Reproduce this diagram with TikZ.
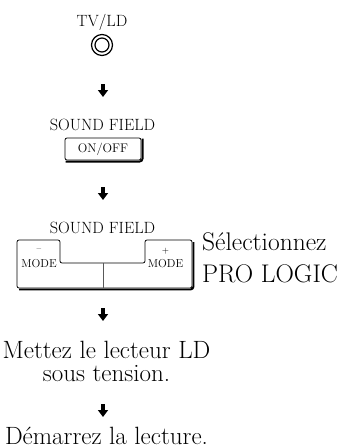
\documentclass[tikz,border=0pt]{standalone}
\usepackage{tikz}
\usetikzlibrary{arrows.meta,positioning}

\begin{document}
\begin{tikzpicture}[x=1pt, y=-1pt, every node/.style={inner sep=0pt},
  lbl/.style={font=\fontsize{16.3}{18}\selectfont, anchor=base},
  big/.style={font=\fontsize{25}{23.5}\selectfont},
  tiny/.style={font=\fontsize{11.5}{12}\selectfont, anchor=base},
  keycap/.style={draw, line width=0.75pt, rounded corners=2pt},
  keyshadow/.style={line width=1.9pt, rounded corners=3pt},
  steparrow/.style={line width=3.4pt, -{Triangle[width=10pt,length=7pt]}}]
\useasboundingbox (0,0) rectangle (350,448);

\node[lbl] (tvlabel) at (102,26) {TV/LD};
\node[circle, draw, line width=1.2pt, minimum size=21pt] (tvbtn) at (102,45) {};
\node[circle, draw, line width=1.2pt, minimum size=14pt] (tvring) at (tvbtn) {};

\coordinate (a1) at (103,84);
\coordinate (a1e) at (103,97);
\draw[steparrow] (a1) -- (a1e);

\node[lbl] (sf1) at (102.5,130) {SOUND FIELD};
\node[keycap, minimum width=76pt, minimum height=22pt, font=\fontsize{12.5}{12}\selectfont] (onoff) at (103,149) {ON/OFF};
\draw[keyshadow] ([shift={(1,1.2)}]onoff.south west) -| ([shift={(1.2,1)}]onoff.north east);

\coordinate (a2) at (103,187);
\coordinate (a2e) at (103,200);
\draw[steparrow] (a2) -- (a2e);

\node[lbl] (sf2) at (102.5,233) {SOUND FIELD};
\draw[keycap] (17,240) -- (60,240) -- (60,263) -- (145,263) -- (145,240) -- (192,240) -- (192,288) -- (17,288) -- cycle;
\draw[black!65, line width=0.9pt] (103,263) -- (103,288);
\draw[keyshadow] (19,289.5) -- (193.5,289.5) -- (193.5,242);
\node[font=\fontsize{9}{9}\selectfont, anchor=base] (minuslbl) at (39,251) {--};
\node[tiny] (model) at (39,267) {MODE};
\node[font=\fontsize{9}{9}\selectfont, anchor=base] (pluslbl) at (165.5,253) {+};
\node[tiny] (moder) at (165.5,267) {MODE};
\node[big, font=\fontsize{25.5}{32}\selectfont, align=left, anchor=base west] (select) at (202,282) {Sélectionnez\\PRO LOGIC};

\coordinate (a3) at (103,308);
\coordinate (a3e) at (103,321);
\draw[steparrow] (a3) -- (a3e);

\node[big, align=center, anchor=base] (power) at (106.5,381.5) {Mettez le lecteur LD\\sous tension.};

\coordinate (a4) at (103,404);
\coordinate (a4e) at (103,417);
\draw[steparrow] (a4) -- (a4e);

\node[big, anchor=base] (play) at (106.5,444.5) {Démarrez la lecture.};
\end{tikzpicture}
\end{document}
